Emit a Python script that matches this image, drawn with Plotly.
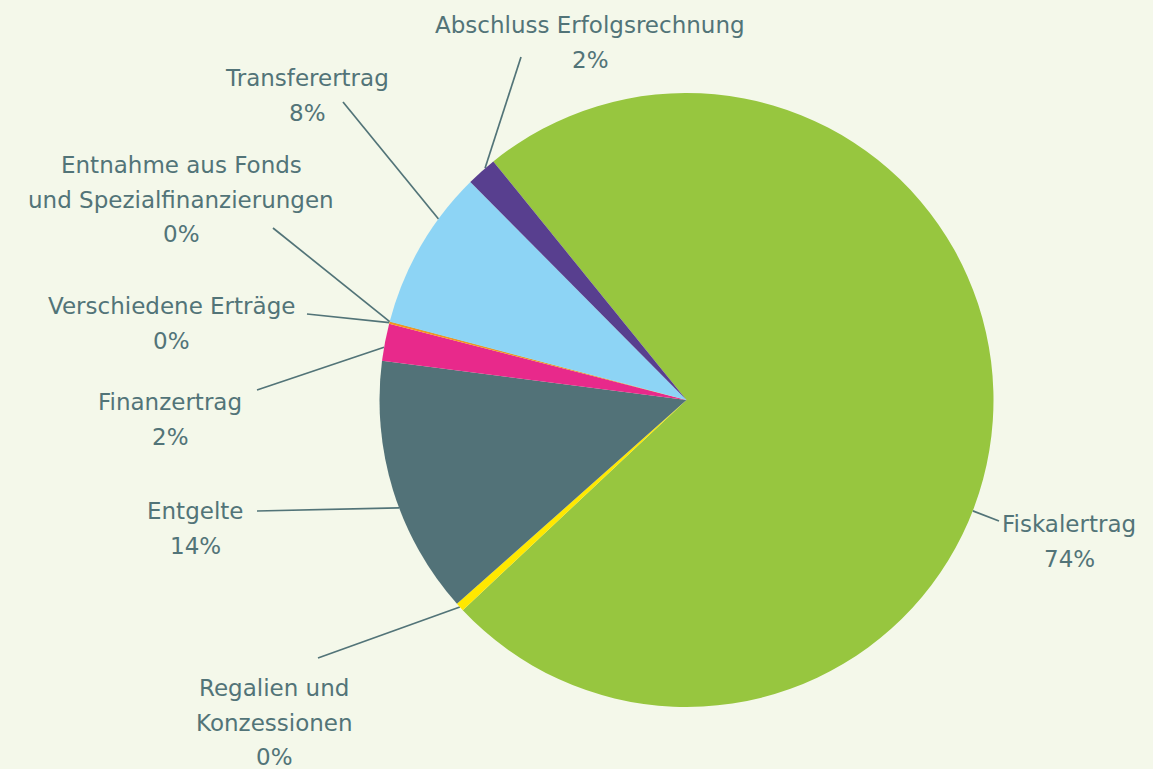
import math
import plotly.graph_objects as go

# data
categories = ["Fiskalertrag", "Regalien und Konzessionen", "Entgelte", "Finanzertrag",
              "Verschiedene Erträge", "Entnahme aus Fonds und Spezialfinanzierungen",
              "Transferertrag", "Abschluss Erfolgsrechnung"]
shares = [73.85, 0.45, 13.6, 1.96, 0.1, 0.02, 8.45, 1.6]

# label text as printed (line breaks)
label_lines = [["Fiskalertrag"], ["Regalien und", "Konzessionen"], ["Entgelte"], ["Finanzertrag"],
               ["Verschiedene Erträge"], ["Entnahme aus Fonds", "und Spezialfinanzierungen"],
               ["Transferertrag"], ["Abschluss Erfolgsrechnung"]]

colors = ["#97c63f", "#ffe800", "#527278", "#e8298b", "#f7941d", "#3a7d44", "#8dd4f5", "#583f8f"]

W, H = 1153, 769
CX, CY, R = 686.5, 400, 307
ROT = -39
TXT = "#527478"

# label layout (pixel positions)
label_x = [1069, 274, 195, 170, 171, 181, 307, 590]
label_y = [524, 688, 511, 402, 306, 165, 78, 25]
line_gap = 34.5
leader_start = [(999, 521), (318, 658), (257, 511), (257, 390), (307, 314), (273, 228), (343, 102), (521, 57)]
anchor_frac = [0.565, 0.5, 0.43, 0.36, 0.5, 0.5, 0.70, 0.65]

fig = go.Figure()

fig.add_trace(go.Pie(
    labels=categories, values=shares, marker=dict(colors=colors, line=dict(width=0)),
    sort=False, direction="clockwise", rotation=ROT, textinfo="none", hoverinfo="label+percent",
    showlegend=False,
    domain=dict(x=[(CX - R) / W, (CX + R) / W], y=[1 - (CY + R) / H, 1 - (CY - R) / H]),
))

total = sum(shares)
annotations = []
cum = 0
for i, v in enumerate(shares):
    a0 = ROT + 360 * cum / total
    a1 = ROT + 360 * (cum + v) / total
    cum += v
    a = math.radians(a0 + anchor_frac[i] * (a1 - a0))
    ex, ey = CX + R * math.sin(a), CY - R * math.cos(a)
    sx, sy = leader_start[i]
    fig.add_trace(go.Scatter(x=[sx, ex], y=[sy, ey], mode="lines", line=dict(color=TXT, width=1.7),
                             hoverinfo="skip", showlegend=False))
    lines = label_lines[i] + ["{:.0f}%".format(v / total * 100)]
    for j, t in enumerate(lines):
        annotations.append(dict(x=label_x[i], y=label_y[i] + j * line_gap, xref="x", yref="y",
                                text=t, showarrow=False, xanchor="center", yanchor="middle",
                                font=dict(family="DejaVu Sans", size=23, color=TXT)))

fig.update_layout(
    width=W, height=H,
    margin=dict(l=0, r=0, t=0, b=0),
    paper_bgcolor="#f4f8ea", plot_bgcolor="rgba(0,0,0,0)",
    xaxis=dict(range=[0, W], visible=False, fixedrange=True),
    yaxis=dict(range=[H, 0], visible=False, fixedrange=True),
    annotations=annotations,
)

fig.write_html("out.html", config={"displayModeBar": False},
               post_script="document.body.style.margin='0';document.body.style.background='#f4f8ea';")
